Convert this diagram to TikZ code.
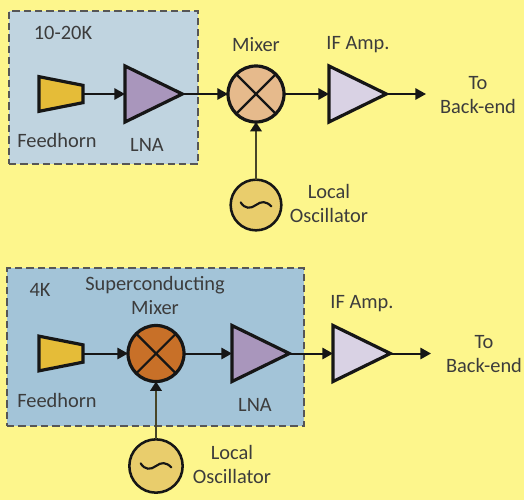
\documentclass[tikz,border=0pt]{standalone}
\usepackage{fontspec}
\setmainfont{Carlito}
\usetikzlibrary{shapes.geometric,arrows.meta}
\definecolor{bgy}{HTML}{FDF68C}
\definecolor{boxa}{HTML}{C0D4E0}
\definecolor{boxb}{HTML}{A3C4D8}
\definecolor{hornc}{HTML}{E5BC38}
\definecolor{lnac}{HTML}{A996BC}
\definecolor{ifc}{HTML}{D9D2E4}
\definecolor{mixa}{HTML}{E6BA8C}
\definecolor{mixb}{HTML}{C87028}
\definecolor{oscc}{HTML}{E9CD6C}
\definecolor{ink}{HTML}{161616}
\definecolor{lbl}{HTML}{3C3C3C}
\definecolor{dashc}{HTML}{565656}
\tikzset{
  zone/.style={draw=dashc,line width=1.6pt,dash pattern=on 5.5pt off 3pt},
  lab/.style={text=lbl,font=\fontsize{15.3}{18}\selectfont,inner sep=0pt,align=center},
  amp/.style={isosceles triangle,isosceles triangle stretches,shape border rotate=0,draw=ink,line width=2.4pt,
     minimum width=42pt,minimum height=43pt,inner sep=0pt,outer sep=0pt,anchor=west},
  hornbox/.style={minimum width=33pt,minimum height=26pt,inner sep=0pt,outer sep=0pt},
  horn/.style={fill=hornc,draw=ink,line width=2.4pt,line join=miter},
  mixer/.style={circle,draw=ink,line width=2.4pt,minimum size=42pt,inner sep=0pt,outer sep=0pt,
     path picture={\draw[ink,line width=1.6pt]
       (path picture bounding box.north west)--(path picture bounding box.south east)
       (path picture bounding box.north east)--(path picture bounding box.south west);}},
  osc/.style={circle,draw=ink,line width=1.9pt,fill=oscc,minimum size=38pt,inner sep=0pt,outer sep=0pt,
     path picture={\draw[ink,line width=1.6pt,line cap=round]
       ([xshift=-11.5pt,yshift=2pt]path picture bounding box.center)
       .. controls +(3pt,-5pt) and +(-4pt,-3pt) .. (path picture bounding box.center)
       .. controls +(4pt,3pt) and +(-4pt,4pt) .. ([xshift=11.5pt,yshift=-1pt]path picture bounding box.center);}},
  wire/.style={draw=ink,line width=1.5pt,-{Triangle[length=8pt,width=8.5pt]}},
  lowire/.style={draw=black!72!bgy,line width=2.1pt,-{Triangle[length=7pt,width=8.5pt,color=ink]}}
}
\newcommand{\hornshape}[1]{\path[horn] (#1.north west)--([yshift=-6.5pt]#1.north east)--([yshift=6.5pt]#1.south east)--(#1.south west)--cycle;}
\begin{document}
\begin{tikzpicture}[x=0.75pt,y=-0.75pt]
\useasboundingbox (0,0) rectangle (524,500);
\fill[bgy] (0,0) rectangle (524,500);
% top chain
\node[zone,fill=boxa,minimum width=142pt,minimum height=115pt,inner sep=0pt] (za) at (103.5,87.5) {};
\node[hornbox] (ha) at (61,94) {};
\hornshape{ha}
\node[amp,fill=lnac] (la) at (125,94) {};
\node[mixer,fill=mixa] (ma) at (256,94) {};
\node[amp,fill=ifc] (ia) at (329,94) {};
\node[osc] (oa) at (256,205) {};
\coordinate (ea) at (426,94);
\draw[wire] (ha.east)--(la.west);
\draw[wire] (la.east)--(ma.west);
\draw[wire] (ma.east)--(ia.west);
\draw[wire] (ia.east)--(ea);
\draw[lowire] (oa.north)--(ma.south);
\node[lab] (ta) at (63,33) {10-20K};
\node[lab] (fa) at (57,140) {Feedhorn};
\node[lab] (na) at (147,145) {LNA};
\node[lab] (xa) at (256,45) {Mixer};
\node[lab] (ya) at (358,45) {IF Amp.};
\node[lab] (ba) at (478,95) {To\\Back-end};
\node[lab] (ca) at (329,203) {Local\\Oscillator};
% bottom chain
\node[zone,fill=boxb,minimum width=223pt,minimum height=118pt,inner sep=0pt] (zb) at (155.5,347) {};
\node[hornbox] (hb) at (61,353.5) {};
\hornshape{hb}
\node[mixer,fill=mixb] (mb) at (156,353.5) {};
\node[amp,fill=lnac] (lb) at (232,353.5) {};
\node[amp,fill=ifc] (ib) at (333,353.5) {};
\node[osc,minimum size=40pt] (ob) at (156,466) {};
\coordinate (eb) at (431,353.5);
\draw[wire] (hb.east)--(mb.west);
\draw[wire] (mb.east)--(lb.west);
\draw[wire] (lb.east)--(ib.west);
\draw[wire] (ib.east)--(eb);
\draw[lowire] (ob.north)--(mb.south);
\node[lab] (tb) at (40,290) {4K};
\node[lab] (sb) at (155,295) {Superconducting\\Mixer};
\node[lab] (fb) at (57,400) {Feedhorn};
\node[lab] (nb) at (255,405) {LNA};
\node[lab] (yb) at (362,304) {IF Amp.};
\node[lab] (bb) at (484,354) {To\\Back-end};
\node[lab] (cb) at (232,464) {Local\\Oscillator};
\end{tikzpicture}
\end{document}
